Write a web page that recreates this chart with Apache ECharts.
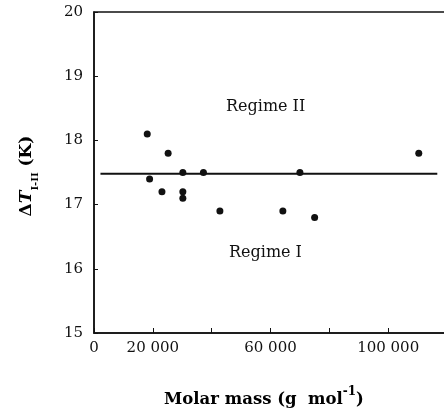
<!DOCTYPE html>
<html>
<head>
<meta charset="utf-8">
<script src="https://cdn.jsdelivr.net/npm/echarts@6/dist/echarts.min.js"></script>
<style>html,body{margin:0;padding:0;background:#fff}#c{width:444px;height:411px}</style>
</head>
<body>
<div id="c"></div>
<script>
var molarMass = [18100, 18900, 23100, 25200, 30200, 30200, 30200, 37200, 42800, 64200, 70000, 75000, 110400];
var deltaT = [18.1, 17.4, 17.2, 17.8, 17.5, 17.2, 17.1, 17.5, 16.9, 16.9, 17.5, 16.8, 17.8];
var fitLineX = [2200, 116700];
var fitLineY = [17.48, 17.48];
var xLabeled = [0, 20000, 60000, 100000];
var yTicks = [15, 16, 17, 18, 19, 20];

var font = 'DejaVu Serif';
var chart = echarts.init(document.getElementById('c'), null, {renderer: 'canvas'});
chart.setOption({
  animation: false,
  backgroundColor: '#fff',
  grid: {left: 94, width: 353, top: 12, height: 321, show: true, borderColor: '#111', borderWidth: 1.5, containLabel: false, outerBoundsMode: 'none'},
  xAxis: {
    type: 'value', min: 0, max: 120000, interval: 20000,
    axisLine: {show: true, lineStyle: {color: '#111', width: 1.5}},
    axisTick: {show: true, inside: true, length: 5, lineStyle: {color: '#111', width: 1}},
    splitLine: {show: false},
    axisLabel: {
      margin: 8, color: '#111', fontFamily: font, fontSize: 15,
      formatter: function (v) {
        if (xLabeled.indexOf(v) < 0) return '';
        return v === 0 ? '0' : String(v).replace(/(\d)(?=(\d{3})+$)/g, '$1 ');
      }
    }
  },
  yAxis: {
    type: 'value', min: yTicks[0], max: yTicks[yTicks.length - 1], interval: 1,
    axisLine: {show: true, lineStyle: {color: '#111', width: 1.5}},
    axisTick: {show: true, inside: true, length: 4, lineStyle: {color: '#111', width: 1}},
    splitLine: {show: false},
    axisLabel: {margin: 11, color: '#111', fontFamily: font, fontSize: 15}
  },
  series: [
    {
      type: 'line',
      data: fitLineX.map(function (x, i) { return [x, fitLineY[i]]; }),
      symbol: 'none',
      lineStyle: {color: '#111', width: 2},
      z: 2
    },
    {
      type: 'scatter',
      data: molarMass.map(function (x, i) { return [x, deltaT[i]]; }),
      symbol: 'circle', symbolSize: 7,
      itemStyle: {color: '#111', opacity: 1},
      z: 3
    }
  ],
  graphic: [
    {type: 'text', left: 226, top: 99, style: {text: 'Regime II', font: '16px "DejaVu Serif"', fill: '#111'}},
    {type: 'text', left: 229, top: 245, style: {text: 'Regime I', font: '16px "DejaVu Serif"', fill: '#111'}},
    {
      type: 'text', x: 264, y: 397,
      style: {
        text: '{a|Molar mass (g  mol}{s|-1}{a|)}',
        align: 'center', verticalAlign: 'middle',
        rich: {
          a: {fontFamily: font, fontWeight: 'bold', fontSize: 16.5, color: '#111', lineHeight: 22, verticalAlign: 'bottom'},
          s: {fontFamily: font, fontWeight: 'bold', fontSize: 12, color: '#111', lineHeight: 22, verticalAlign: 'top'}
        }
      }
    },
    {
      type: 'text', x: 29, y: 176, rotation: Math.PI / 2,
      style: {
        text: '{a|Δ}{t|T}{s|I-II}{a| (K)}',
        align: 'center', verticalAlign: 'middle',
        rich: {
          a: {fontFamily: font, fontWeight: 'bold', fontSize: 17, color: '#111', lineHeight: 22, verticalAlign: 'top'},
          t: {fontFamily: font, fontWeight: 'bold', fontStyle: 'italic', fontSize: 17, color: '#111', lineHeight: 22, verticalAlign: 'top'},
          s: {fontFamily: font, fontWeight: 'bold', fontSize: 10, color: '#111', lineHeight: 22, verticalAlign: 'bottom'}
        }
      }
    }
  ]
});
</script>
</body>
</html>
